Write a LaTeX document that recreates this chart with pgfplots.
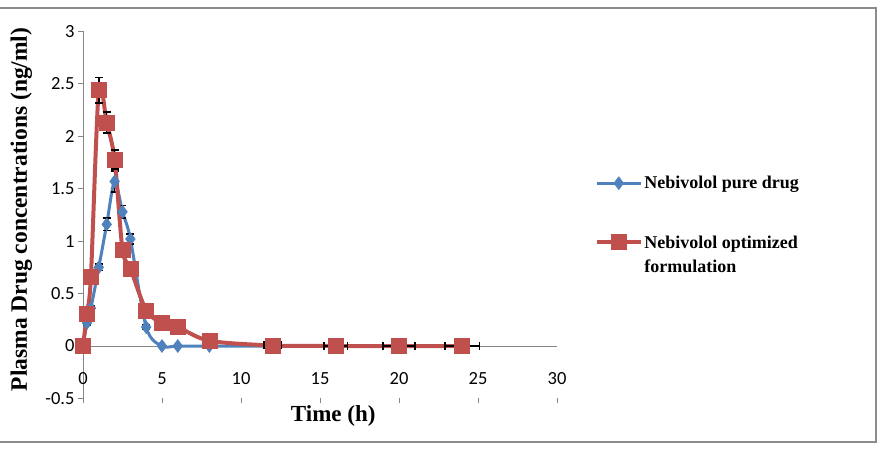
\documentclass[border=0pt]{standalone}
\usepackage{pgfplots}
\pgfplotsset{compat=1.18}
\usepackage{fontspec}
\setmainfont{Liberation Serif}
\newfontfamily\tickfont{Carlito}
\definecolor{pureblue}{HTML}{4F81BD}
\definecolor{optred}{HTML}{C0504D}
\definecolor{axgray}{HTML}{868686}
\definecolor{framegray}{HTML}{8C8C8C}

\begin{document}
\begin{tikzpicture}
% picture area, measured from the data origin of the axis
\path[use as bounding box] (-83pt,-104pt) rectangle (801pt,346pt);
% outer chart frame
\draw[framegray, line width=2pt] (-83pt,338pt) -- (793pt,338pt) -- (793pt,-96pt) -- (-83pt,-96pt);
\begin{axis}[
  anchor=origin,
  scale only axis, width=474pt, height=367pt,
  xmin=0, xmax=30, ymin=-0.5, ymax=3,
  axis x line=middle, axis y line=left,
  hide obscured x ticks=false,
  axis line style={axgray, line width=0.8pt, -},
  xtick={0,5,...,30}, ytick={-0.5,0,...,3},
  tick style={axgray, line width=0.8pt},
  tick align=outside, tick pos=left,
  major tick length=5pt,
  /pgf/number format/assume math mode=true,
  /pgf/number format/fixed,
  ticklabel style={font=\tickfont\fontsize{18.5}{18.5}\selectfont, text=black},
  xticklabel style={yshift=-18pt},
  xlabel={\textbf{Time (h)}},
  xlabel style={font=\fontsize{23}{23}\selectfont, at={(axis description cs:0.528,-0.048)}, anchor=center},
  ylabel={\textbf{Plasma Drug concentrations (ng/ml)}},
  ylabel style={font=\fontsize{23.5}{23.5}\selectfont, at={(axis description cs:-0.13,0.515)}, anchor=center, rotate=0},
  legend style={at={(1.074,0.617)}, anchor=north west, draw=none, fill=none,
    font=\bfseries\fontsize{18}{22}\selectfont, row sep=39pt},
  legend cell align=left,
  legend image code/.code={\draw[mark repeat=2,mark phase=2,#1] plot coordinates {(0pt,0pt) (21.5pt,0pt) (43pt,0pt)};},
  clip=false,
]
% pure drug
\addplot[pureblue, line width=3pt, smooth, tension=0.5, mark=diamond*, mark size=6.5pt,
  mark options={line width=0.5pt, solid},
  error bars/.cd, y dir=both, y explicit, error bar style={black, line width=1.6pt},
  error mark options={rotate=90, mark size=4pt, black, line width=1.6pt}]
coordinates {
  (0,0) +- (0,0)
  (0.25,0.22) +- (0,0.02)
  (0.5,0.36) +- (0,0.02)
  (1,0.75) +- (0,0.03)
  (1.5,1.16) +- (0,0.06)
  (2,1.57) +- (0,0.10)
  (2.5,1.28) +- (0,0.06)
  (3,1.02) +- (0,0.05)
  (4,0.18) +- (0,0.02)
  (5,0) +- (0,0)
  (6,0) +- (0,0)
  (8,0) +- (0,0)
  (12,0) +- (0,0)
  (16,0) +- (0,0)
  (20,0) +- (0,0)
  (24,0) +- (0,0)
};
\addlegendentry{Nebivolol pure drug}
% optimized formulation
\addplot[optred, line width=4pt, smooth, tension=0.5, mark=square*, mark size=7.5pt,
  mark options={line width=0.5pt, solid},
  error bars/.cd, x dir=both, x explicit, y dir=both, y explicit,
  error bar style={black, line width=1.6pt},
  error mark options={rotate=90, mark size=4pt, black, line width=1.6pt}]
coordinates {
  (0,0) +- (0,0)
  (0.25,0.31) +- (0,0.02)
  (0.5,0.66) +- (0,0.03)
  (1,2.44) +- (0,0.12)
  (1.5,2.13) +- (0,0.10)
  (2,1.78) +- (0,0.09)
  (2.5,0.92) +- (0,0.04)
  (3,0.74) +- (0,0.03)
  (4,0.34) +- (0,0.02)
  (5,0.22) +- (0,0.01)
  (6,0.18) +- (0,0.01)
  (8,0.05) +- (0,0.01)
  (12,0.005) +- (0.55,0)
  (16,0) +- (0.75,0)
  (20,0) +- (1.0,0)
  (24,0) +- (1.1,0)
};
\addlegendentry{\begin{tabular}[t]{@{}l@{}}Nebivolol optimized\\[2pt]formulation\end{tabular}}
\end{axis}
\end{tikzpicture}
\end{document}
